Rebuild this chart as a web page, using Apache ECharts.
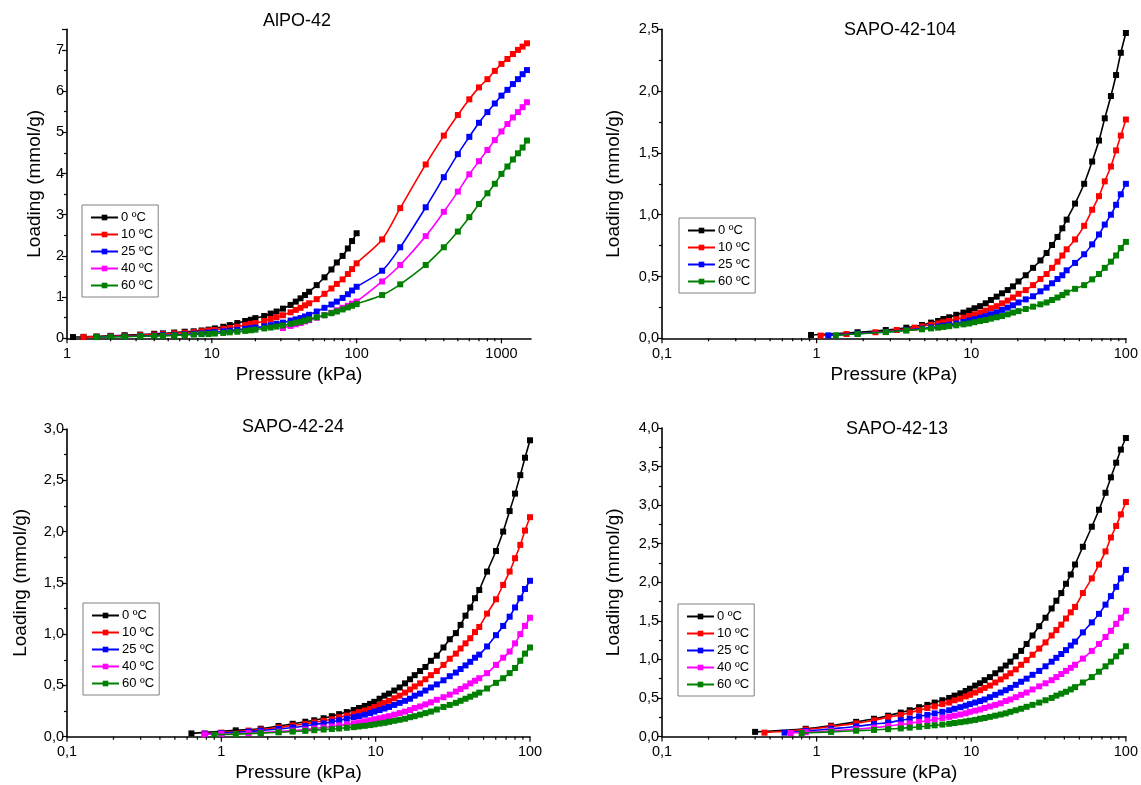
<!DOCTYPE html>
<html><head><meta charset="utf-8">
<script src="https://cdn.jsdelivr.net/npm/echarts@6/dist/echarts.min.js"></script>
<style>html,body{margin:0;padding:0;background:#fff}#c{width:1141px;height:785px}</style>
</head><body><div id="c"></div>
<script>
const TEMPS = ['0 ºC', '10 ºC', '25 ºC', '40 ºC', '60 ºC'];
const COLORS = ['#000000', '#ff0000', '#0000ff', '#ff00ff', '#008000'];
const TITLES = ['AlPO-42', 'SAPO-42-104', 'SAPO-42-24', 'SAPO-42-13'];
const X_NAME = 'Pressure (kPa)';
const Y_NAME = 'Loading (mmol/g)';
const MINOR_MULT = [1, 2, 3, 4, 5, 6, 7, 8, 9];

// Panel 1: AlPO-42
const P1 = [1.1, 1.3, 1.6, 2.0, 2.5, 3.2, 4.0, 4.6, 5.5, 6.5, 7.5, 8.5, 9.5, 10.5, 12, 13.3, 15, 17, 18.6, 20, 23, 25.5, 28, 31, 35, 38, 41, 44, 47, 53, 60, 67, 73, 80, 87, 93, 100,
  150, 200, 300, 400, 500, 600, 700, 800, 900, 1000, 1100, 1200, 1300, 1400, 1500];
const L1_0 = [0.03, 0.035, 0.045, 0.06, 0.075, 0.09, 0.11, 0.12, 0.14, 0.16, 0.17, 0.19, 0.21, 0.24, 0.28, 0.32, 0.37, 0.42, 0.45, 0.49, 0.54, 0.60, 0.65, 0.72, 0.81, 0.89, 0.97, 1.05, 1.13, 1.29, 1.48, 1.67, 1.84, 2.0, 2.18, 2.36, 2.55,
  null, null, null, null, null, null, null, null, null, null, null, null, null, null, null];
const L1_10 = [null, 0.03, 0.035, 0.05, 0.06, 0.075, 0.09, 0.10, 0.12, 0.135, 0.15, 0.17, 0.19, 0.20, 0.23, 0.25, 0.28, 0.32, 0.35, 0.37, 0.42, 0.47, 0.51, 0.56, 0.63, 0.69, 0.74, 0.80, 0.85, 0.95, 1.08, 1.21, 1.32, 1.43, 1.56, 1.68, 1.82,
  2.40, 3.16, 4.22, 4.92, 5.42, 5.80, 6.09, 6.29, 6.49, 6.66, 6.78, 6.90, 7.00, 7.08, 7.16];
const L1_25 = [null, null, 0.03, 0.04, 0.045, 0.055, 0.065, 0.075, 0.085, 0.095, 0.11, 0.12, 0.135, 0.15, 0.17, 0.185, 0.205, 0.23, 0.245, 0.26, 0.29, 0.32, 0.35, 0.38, 0.43, 0.46, 0.49, 0.53, 0.57, 0.65, 0.74, 0.82, 0.89, 0.98, 1.07, 1.16, 1.25,
  1.64, 2.21, 3.18, 3.91, 4.47, 4.89, 5.23, 5.49, 5.70, 5.89, 6.03, 6.17, 6.29, 6.41, 6.51];
const L1_40 = [null, null, null, null, null, null, null, null, null, null, null, null, null, null, null, null, null, null, null, null, null, null, null,
  0.25, 0.30, 0.34, 0.37, 0.41, 0.44, 0.50, 0.56, 0.62, 0.68, 0.74, 0.79, 0.84, 0.89,
  1.38, 1.78, 2.48, 3.07, 3.56, 3.98, 4.30, 4.57, 4.81, 5.02, 5.20, 5.36, 5.49, 5.61, 5.73];
const L1_60 = [null, null, 0.03, 0.035, 0.04, 0.05, 0.055, 0.06, 0.07, 0.08, 0.09, 0.10, 0.105, 0.115, 0.13, 0.145, 0.16, 0.18, 0.195, 0.21, 0.24, 0.26, 0.285, 0.31, 0.35, 0.38, 0.40, 0.43, 0.46, 0.51, 0.56, 0.61, 0.65, 0.70, 0.75, 0.79, 0.83,
  1.05, 1.31, 1.78, 2.21, 2.59, 2.94, 3.26, 3.52, 3.75, 3.99, 4.17, 4.34, 4.49, 4.63, 4.80];

// Panel 2: SAPO-42-104
const P2 = [0.92, 1.06, 1.19, 1.33, 1.56, 1.84, 2.4, 2.8, 3.3, 3.8, 4.3, 4.8, 5.5, 6.1, 6.6, 7.2, 8.0, 8.9, 9.7, 10.5, 11.4, 12.4, 13.4, 14.6, 15.8, 17.2, 18.6, 20.2, 22.5, 25.1, 28, 30.7, 33.3, 36.1, 38.8, 41.4, 46.9, 53.7, 60.5, 67, 73, 80, 86.4, 92.7, 100];
const L2_0 = [0.027, null, null, null, null, 0.049, null, 0.067, null, 0.086, null, 0.108, 0.127, 0.14, 0.156, 0.17, 0.19, 0.208, 0.224, 0.243, 0.26, 0.283, 0.31, 0.337, 0.364, 0.39, 0.42, 0.46, 0.51, 0.57, 0.63, 0.69, 0.755, 0.82, 0.89, 0.96, 1.09, 1.25, 1.43, 1.60, 1.78, 1.96, 2.13, 2.31, 2.47];
const L2_10 = [null, 0.022, null, null, 0.035, null, 0.049, null, 0.067, null, 0.086, 0.096, 0.11, 0.12, 0.13, 0.14, 0.154, 0.167, 0.18, 0.194, 0.208, 0.224, 0.243, 0.26, 0.283, 0.305, 0.33, 0.36, 0.39, 0.43, 0.48, 0.52, 0.57, 0.62, 0.67, 0.72, 0.80, 0.91, 1.04, 1.15, 1.27, 1.39, 1.52, 1.64, 1.77];
const L2_25 = [null, null, 0.024, null, null, 0.038, null, 0.052, null, 0.066, null, 0.078, 0.088, 0.096, 0.102, 0.11, 0.12, 0.132, 0.144, 0.154, 0.167, 0.18, 0.194, 0.21, 0.23, 0.248, 0.267, 0.29, 0.315, 0.34, 0.38, 0.41, 0.445, 0.48, 0.51, 0.55, 0.61, 0.68, 0.76, 0.84, 0.92, 1.0, 1.08, 1.165, 1.25];
const L2_60 = [null, null, null, 0.024, null, 0.035, null, 0.05, null, 0.063, null, 0.073, 0.08, 0.086, 0.092, 0.098, 0.105, 0.113, 0.12, 0.13, 0.14, 0.148, 0.159, 0.17, 0.18, 0.194, 0.208, 0.22, 0.237, 0.256, 0.275, 0.29, 0.31, 0.33, 0.35, 0.37, 0.40, 0.43, 0.477, 0.52, 0.57, 0.62, 0.67, 0.73, 0.78];

// Panel 3: SAPO-42-24
const P3 = [0.64, 0.78, 0.9, 1.0, 1.24, 1.5, 1.8, 2.35, 2.9, 3.5, 4.0, 4.6, 5.2, 5.8, 6.5, 7.2, 7.8, 8.5, 9.2, 9.8, 10.6, 11.4, 12.2, 13.2, 14.3, 15.5, 16.7, 17.9, 19.4, 21, 22.8, 24.9, 27.5, 30.2, 33.1, 35.5, 38.2, 41, 44, 46.9, 52.7, 60.2, 67, 73.8, 80, 86.5, 92.8, 100];
const L3_0 = [0.032, null, null, null, 0.062, null, 0.078, 0.104, 0.126, 0.146, 0.16, 0.18, 0.20, 0.22, 0.24, 0.26, 0.28, 0.30, 0.32, 0.34, 0.37, 0.40, 0.42, 0.45, 0.48, 0.52, 0.56, 0.60, 0.64, 0.68, 0.74, 0.79, 0.87, 0.95, 1.01, 1.09, 1.18, 1.26, 1.35, 1.43, 1.61, 1.81, 2.0, 2.20, 2.37, 2.55, 2.72, 2.89];
const L3_10 = [null, 0.032, null, 0.04, null, 0.06, 0.07, 0.09, 0.11, 0.125, 0.14, 0.155, 0.17, 0.19, 0.205, 0.22, 0.24, 0.255, 0.27, 0.29, 0.31, 0.33, 0.35, 0.375, 0.40, 0.43, 0.46, 0.49, 0.52, 0.56, 0.60, 0.64, 0.70, 0.76, 0.81, 0.86, 0.91, 0.96, 1.02, 1.07, 1.20, 1.34, 1.48, 1.61, 1.74, 1.87, 2.01, 2.14];
const L3_25 = [null, 0.03, null, 0.035, null, 0.05, 0.06, 0.075, 0.09, 0.105, 0.12, 0.13, 0.145, 0.16, 0.175, 0.19, 0.20, 0.215, 0.23, 0.245, 0.26, 0.275, 0.29, 0.31, 0.33, 0.35, 0.37, 0.40, 0.42, 0.45, 0.48, 0.51, 0.55, 0.59, 0.625, 0.66, 0.695, 0.73, 0.77, 0.80, 0.88, 0.99, 1.08, 1.17, 1.26, 1.35, 1.44, 1.52];
const L3_40 = [null, 0.023, null, 0.028, null, 0.035, 0.04, 0.05, 0.06, 0.07, 0.08, 0.09, 0.10, 0.11, 0.12, 0.13, 0.14, 0.15, 0.16, 0.17, 0.18, 0.19, 0.20, 0.215, 0.23, 0.245, 0.26, 0.28, 0.295, 0.315, 0.335, 0.36, 0.385, 0.41, 0.44, 0.465, 0.49, 0.52, 0.545, 0.57, 0.62, 0.70, 0.77, 0.83, 0.91, 1.0, 1.08, 1.16];
const L3_60 = [null, null, 0.02, null, 0.025, null, 0.035, 0.043, 0.05, 0.057, 0.063, 0.07, 0.075, 0.08, 0.087, 0.093, 0.10, 0.106, 0.113, 0.12, 0.128, 0.135, 0.145, 0.155, 0.165, 0.175, 0.19, 0.20, 0.215, 0.23, 0.245, 0.265, 0.29, 0.31, 0.33, 0.35, 0.37, 0.39, 0.41, 0.43, 0.47, 0.525, 0.57, 0.62, 0.67, 0.74, 0.81, 0.87];

// Panel 4: SAPO-42-13
const P4 = [0.4, 0.46, 0.62, 0.68, 0.8, 0.85, 1.24, 1.8, 2.35, 2.9, 3.5, 4.0, 4.6, 5.2, 5.8, 6.5, 7.2, 7.8, 8.5, 9.2, 9.8, 10.6, 11.4, 12.2, 13.2, 14.3, 15.5, 16.7, 17.9, 19.4, 21, 22.8, 24.9, 27.5, 30.2, 33.1, 35.5, 38.2, 41, 44, 46.9, 52.7, 60.2, 67, 73.8, 80, 86.5, 92.8, 100];
const L4_0 = [0.06, null, null, null, null, 0.10, 0.14, 0.19, 0.23, 0.27, 0.31, 0.34, 0.38, 0.41, 0.44, 0.47, 0.50, 0.53, 0.56, 0.59, 0.62, 0.66, 0.69, 0.73, 0.77, 0.82, 0.87, 0.92, 0.97, 1.04, 1.11, 1.20, 1.31, 1.43, 1.54, 1.66, 1.76, 1.86, 1.98, 2.10, 2.23, 2.46, 2.72, 2.94, 3.16, 3.36, 3.55, 3.72, 3.87];
const L4_10 = [null, 0.05, null, null, null, 0.09, 0.13, 0.17, 0.21, 0.25, 0.28, 0.31, 0.34, 0.37, 0.39, 0.42, 0.44, 0.47, 0.49, 0.52, 0.54, 0.57, 0.60, 0.63, 0.66, 0.70, 0.74, 0.78, 0.82, 0.87, 0.93, 0.99, 1.06, 1.14, 1.22, 1.31, 1.38, 1.45, 1.53, 1.61, 1.68, 1.86, 2.05, 2.23, 2.40, 2.58, 2.73, 2.88, 3.04];
const L4_25 = [null, null, 0.05, null, null, 0.07, 0.10, 0.13, 0.16, 0.18, 0.21, 0.23, 0.26, 0.28, 0.30, 0.32, 0.34, 0.36, 0.38, 0.40, 0.42, 0.44, 0.46, 0.48, 0.51, 0.54, 0.57, 0.60, 0.63, 0.67, 0.71, 0.75, 0.80, 0.85, 0.91, 0.97, 1.02, 1.07, 1.12, 1.18, 1.23, 1.35, 1.48, 1.59, 1.71, 1.82, 1.94, 2.05, 2.16];
const L4_40 = [null, null, null, 0.045, null, 0.055, 0.075, 0.095, 0.115, 0.135, 0.155, 0.17, 0.19, 0.205, 0.22, 0.24, 0.255, 0.27, 0.285, 0.30, 0.32, 0.335, 0.35, 0.37, 0.39, 0.41, 0.43, 0.46, 0.48, 0.51, 0.54, 0.57, 0.61, 0.65, 0.69, 0.73, 0.77, 0.81, 0.85, 0.89, 0.93, 1.01, 1.11, 1.20, 1.29, 1.37, 1.46, 1.54, 1.63];
const L4_60 = [null, null, null, null, 0.045, null, 0.06, 0.075, 0.085, 0.095, 0.105, 0.115, 0.125, 0.135, 0.145, 0.155, 0.165, 0.175, 0.185, 0.195, 0.205, 0.215, 0.23, 0.24, 0.255, 0.27, 0.285, 0.30, 0.32, 0.34, 0.36, 0.385, 0.41, 0.44, 0.47, 0.50, 0.53, 0.555, 0.58, 0.61, 0.64, 0.70, 0.77, 0.84, 0.91, 0.97, 1.04, 1.10, 1.17];

const FONT = '"Liberation Sans", Arial, Helvetica, sans-serif';

const panels = [
  { P: P1, L: [L1_0, L1_10, L1_25, L1_40, L1_60], xmin: 1, xmax: 1600, ymax: 7.5, yint: 1, dec: 0,
    grid: { left: 67, top: 29.3, width: 464, height: 309 }, title: [297, 22.5],
    legend: [82, 205], yGap: 23, xGap: 27, decades: [1, 10, 100, 1000] },
  { P: P2, L: [L2_0, L2_10, L2_25, null, L2_60], xmin: 0.1, xmax: 100, ymax: 2.5, yint: 0.5, dec: 1,
    grid: { left: 662, top: 29.3, width: 464, height: 309 }, title: [900, 31.5],
    legend: [679, 218], yGap: 39, xGap: 27, decades: [0.1, 1, 10, 100] },
  { P: P3, L: [L3_0, L3_10, L3_25, L3_40, L3_60], xmin: 0.1, xmax: 100, ymax: 3.0, yint: 0.5, dec: 1,
    grid: { left: 67, top: 429, width: 463, height: 307.7 }, title: [293, 428.5],
    legend: [83, 603], yGap: 37, xGap: 27, decades: [0.1, 1, 10, 100] },
  { P: P4, L: [L4_0, L4_10, L4_25, L4_40, L4_60], xmin: 0.1, xmax: 100, ymax: 4.0, yint: 0.5, dec: 1,
    grid: { left: 662, top: 428, width: 464, height: 308.5 }, title: [897, 431],
    legend: [678, 604], yGap: 39, xGap: 27, decades: [0.1, 1, 10, 100] }
];

function fmtNum(v, dec) {
  const n = Number(Number(v).toPrecision(6));
  const s = dec > 0 ? n.toFixed(dec) : String(n);
  return s.replace('.', ',');
}

const option = {
  backgroundColor: '#ffffff',
  animation: false,
  textStyle: { fontFamily: FONT, color: '#000' },
  title: [], grid: [], xAxis: [], yAxis: [], legend: [], series: []
};

panels.forEach((pn, i) => {
  option.title.push({
    text: TITLES[i], left: pn.title[0], top: pn.title[1] - 10.5, textAlign: 'center', padding: 0,
    textStyle: { fontSize: 18, fontWeight: 'normal', color: '#000', fontFamily: FONT }
  });
  option.grid.push(Object.assign({ containLabel: false }, pn.grid));
  option.xAxis.push({
    type: 'log', logBase: 10, gridIndex: i, min: pn.xmin, max: pn.xmax,
    axisLine: { show: true, onZero: false, lineStyle: { color: '#000', width: 1.6 } },
    axisTick: { show: false }, splitLine: { show: false },
    axisLabel: { fontSize: 14.5, color: '#000', margin: 8, fontFamily: FONT,
      showMinLabel: true, showMaxLabel: i !== 0,
      formatter: v => fmtNum(v, 0) },
    name: X_NAME, nameLocation: 'middle', nameGap: pn.xGap,
    nameTextStyle: { fontSize: 19, color: '#000', fontFamily: FONT }
  });
  option.yAxis.push({
    type: 'value', gridIndex: i, min: 0, max: pn.ymax, interval: pn.yint,
    axisLine: { show: true, onZero: false, lineStyle: { color: '#000', width: 1.6 } },
    axisTick: { show: true, length: 5, lineStyle: { color: '#000', width: 1.2 } },
    minorTick: { show: true, splitNumber: 2, length: 3, lineStyle: { color: '#000', width: 1.2 } },
    splitLine: { show: false }, minorSplitLine: { show: false },
    axisLabel: { fontSize: 14.5, color: '#000', margin: 3, fontFamily: FONT,
      showMaxLabel: i !== 0, formatter: v => fmtNum(v, pn.dec) },
    name: Y_NAME, nameLocation: 'middle', nameGap: pn.yGap,
    nameTextStyle: { fontSize: 19, color: '#000', fontFamily: FONT }
  });
  const names = [];
  pn.L.forEach((arr, k) => {
    if (!arr) return;
    names.push(TEMPS[k]);
    const data = pn.P.map((p, j) => [p, arr[j]]).filter(d => d[1] !== null && d[1] !== undefined);
    option.series.push({
      type: 'line', name: TEMPS[k], xAxisIndex: i, yAxisIndex: i, data,
      smooth: 0.3, symbol: 'rect', symbolSize: 6, showSymbol: true,
      lineStyle: { color: COLORS[k], width: 1.6 }, itemStyle: { color: COLORS[k] },
      z: 2 + k
    });
  });
  option.legend.push({
    left: pn.legend[0], top: pn.legend[1], orient: 'vertical', data: names,
    itemWidth: 27, itemHeight: 7, itemGap: 4, padding: [6, 5, 5, 8],
    borderColor: '#808080', borderWidth: 1, backgroundColor: '#ffffff',
    selectedMode: false,
    textStyle: { fontSize: 13, color: '#000', fontFamily: FONT, padding: [0, 0, 0, -2] }
  });
  // x-axis major and minor ticks (log decades)
  const ticks = [];
  pn.decades.forEach(d => {
    MINOR_MULT.forEach(m => {
      const v = d * m;
      if (v >= pn.xmin * 0.9999 && v <= pn.xmax * 1.0001) ticks.push([v, m === 1 ? 1 : 0]);
    });
  });
  option.series.push({
    type: 'custom', xAxisIndex: i, yAxisIndex: i, silent: true, clip: false, z: 20,
    data: ticks,
    renderItem: (params, api) => {
      const p = api.coord([api.value(0), 0]);
      const len = api.value(1) ? 5 : 3;
      return { type: 'line', shape: { x1: p[0], y1: p[1], x2: p[0], y2: p[1] + len },
        style: { stroke: '#000', lineWidth: 1.2 } };
    }
  });
});

const chart = echarts.init(document.getElementById('c'), null, { renderer: 'canvas' });
chart.setOption(option);
</script>
</body></html>
